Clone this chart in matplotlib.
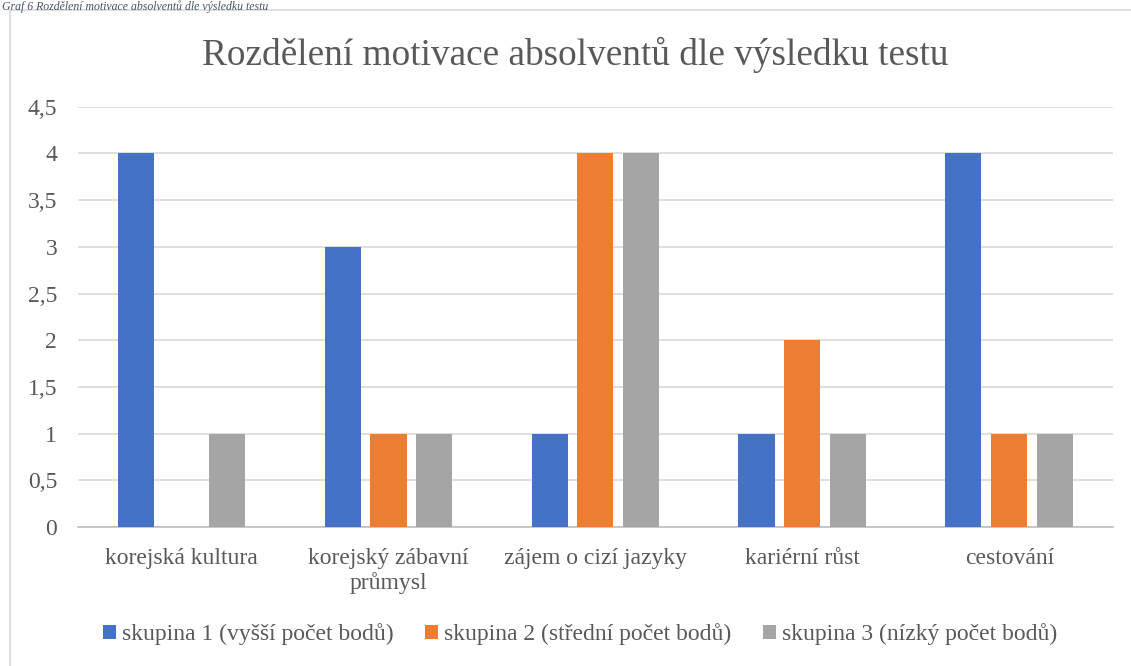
import numpy as np
import matplotlib
matplotlib.use('Agg')
import matplotlib.pyplot as plt
from matplotlib.patches import Rectangle

plt.rcParams['font.family'] = ['Liberation Serif', 'DejaVu Serif']

# Data
categories = ['korejská kultura', 'korejský zábavní\nprůmysl', 'zájem o cizí jazyky',
              'kariérní růst', 'cestování']
series_names = ['skupina 1 (vyšší počet bodů)', 'skupina 2 (střední počet bodů)',
                'skupina 3 (nízký počet bodů)']
skupina1 = [4, 3, 1, 1, 4]
skupina2 = [0, 1, 4, 2, 1]
skupina3 = [1, 1, 4, 1, 1]
yticks = [0, 0.5, 1, 1.5, 2, 2.5, 3, 3.5, 4, 4.5]
ytick_labels = ['0', '0,5', '1', '1,5', '2', '2,5', '3', '3,5', '4', '4,5']

colors = ['#4472C4', '#ED7D31', '#A5A5A5']
text_col = '#595959'

fig = plt.figure(figsize=(11.31, 6.66), dpi=100)
ax = fig.add_axes([0.069, 0.2087, 0.915, 0.631])

# chart frame (light border, running off right/bottom)
fig.patches.append(Rectangle((10 / 1131, -0.05), 1.2, 1 - 10 / 666 + 0.05,
                             transform=fig.transFigure, fill=False,
                             edgecolor='#D9D9D9', linewidth=1.2))

# caption at the very top of the page
fig.text(0.002, 1.0, 'Graf 6 Rozdělení motivace absolventů dle výsledku testu',
         fontsize=8.5, style='italic', color='#44546A', ha='left', va='top')

x = np.arange(len(categories))
width = 0.174
step = 0.222
for i, (vals, name) in enumerate(zip([skupina1, skupina2, skupina3], series_names)):
    ax.bar(x + (i - 1) * step, vals, width, color=colors[i], label=name, zorder=3)

ax.set_xlim(-0.5, len(categories) - 0.5)
ax.set_ylim(0, 4.5)
ax.set_yticks(yticks)
ax.set_yticklabels(ytick_labels)
ax.set_xticks(x)
ax.set_xticklabels(categories)
ax.grid(axis='y', color='#D9D9D9', linewidth=1.2, zorder=0)
ax.set_axisbelow(True)
for side in ['top', 'right', 'left']:
    ax.spines[side].set_visible(False)
ax.spines['bottom'].set_color('#BFBFBF')
ax.spines['bottom'].set_linewidth(1.2)
ax.tick_params(axis='both', length=0, labelsize=17, colors=text_col)
ax.tick_params(axis='y', pad=15)
ax.tick_params(axis='x', pad=15)

fig.text(0.509, 1 - 55 / 666, 'Rozdělení motivace absolventů dle výsledku testu',
         fontsize=26.8, color=text_col, ha='center', va='center')

leg = fig.legend(loc='center', bbox_to_anchor=(0.513, 1 - 634 / 666), ncol=3,
                 frameon=False, fontsize=17, handlelength=0.55, handleheight=0.55,
                 handletextpad=0.25, columnspacing=1.35)
for t in leg.get_texts():
    t.set_color(text_col)

fig.savefig('out.png', dpi=100)
